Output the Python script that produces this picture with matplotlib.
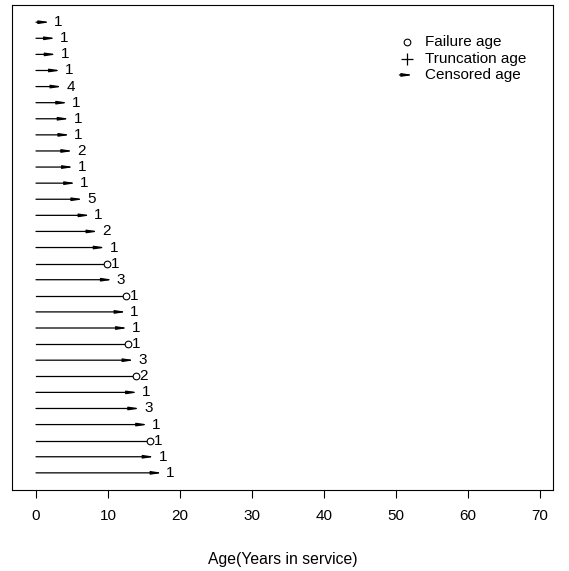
import matplotlib
matplotlib.use("Agg")
from matplotlib import pyplot as plt
import numpy as np

plt.rcParams['font.family'] = ['Liberation Sans', 'DejaVu Sans']

# end age of each unit row (top to bottom), status and count label
ages = [2.0, 2.8, 2.9, 3.5, 3.7, 4.5, 4.7, 4.8, 5.2, 5.3,
        5.6, 6.6, 7.6, 8.7, 9.7, 9.9, 10.7, 12.5, 12.6, 12.8,
        12.8, 13.7, 13.9, 14.2, 14.5, 15.6, 15.9, 16.5, 17.6]
status = ['C', 'C', 'C', 'C', 'C', 'C', 'C', 'C', 'C', 'C',
          'C', 'C', 'C', 'C', 'C', 'F', 'C', 'F', 'C', 'C',
          'F', 'C', 'F', 'C', 'C', 'C', 'F', 'C', 'C']
counts = [1, 1, 1, 1, 4, 1, 1, 1, 2, 1,
          1, 5, 1, 2, 1, 1, 3, 1, 1, 1,
          1, 3, 2, 1, 3, 1, 1, 1, 1]
xticks = [0, 10, 20, 30, 40, 50, 60, 70]
legend_labels = ['Failure age', 'Truncation age', 'Censored age']

arrow_style = '-|>,head_length=0.6,head_width=0.09'

fig = plt.figure(figsize=(5.69, 5.71), dpi=100)
ax = fig.add_axes([0.0211, 0.142, 0.9508, 0.849])

rows = np.arange(1, len(ages) + 1)
for y, a, s, n in zip(rows, ages, status, counts):
    if s == 'C':
        ax.annotate('', xy=(a, y), xytext=(0, y),
                    arrowprops=dict(arrowstyle=arrow_style, lw=0.9, color='black',
                                    shrinkA=0, shrinkB=0, mutation_scale=10))
        off = 2.6
    else:
        ax.plot([0, a], [y, y], color='black', lw=0.9)
        ax.plot(a, y, marker='o', ms=4.8, mfc='white', mec='black', mew=0.8)
        off = 2.6
    ax.annotate(str(n), xy=(a, y), xytext=(off, 0), textcoords='offset points',
                ha='left', va='center', fontsize=11)

ax.set_xlim(-3.33, 71.8)
ax.set_ylim(len(ages) + 1.06, -0.06)
ax.set_yticks([])
ax.set_xticks(xticks)
ax.tick_params(axis='x', direction='out', length=5.5, width=0.8, pad=8, labelsize=11)
for sp in ax.spines.values():
    sp.set_linewidth(0.8)
ax.set_xlabel('Age(Years in service)', fontsize=11.3, labelpad=21)

# legend drawn by hand (no frame)
lx, tx = 0.730, 0.763
ly = [0.924, 0.889, 0.856]
ax.plot(lx, ly[0], marker='o', ms=4.8, mfc='white', mec='black', mew=0.8,
        transform=ax.transAxes)
ax.plot(lx, ly[1], marker='+', ms=8, color='black', mew=0.9,
        transform=ax.transAxes)
ax.annotate('', xy=(lx + 0.012, ly[2]), xytext=(lx - 0.014, ly[2]),
            xycoords='axes fraction', textcoords='axes fraction',
            arrowprops=dict(arrowstyle=arrow_style, lw=0.9, color='black',
                            shrinkA=0, shrinkB=0, mutation_scale=10))
for y, lab in zip(ly, legend_labels):
    ax.text(tx, y, lab, transform=ax.transAxes, ha='left', va='center', fontsize=11)

fig.savefig('out.png', dpi=100)
